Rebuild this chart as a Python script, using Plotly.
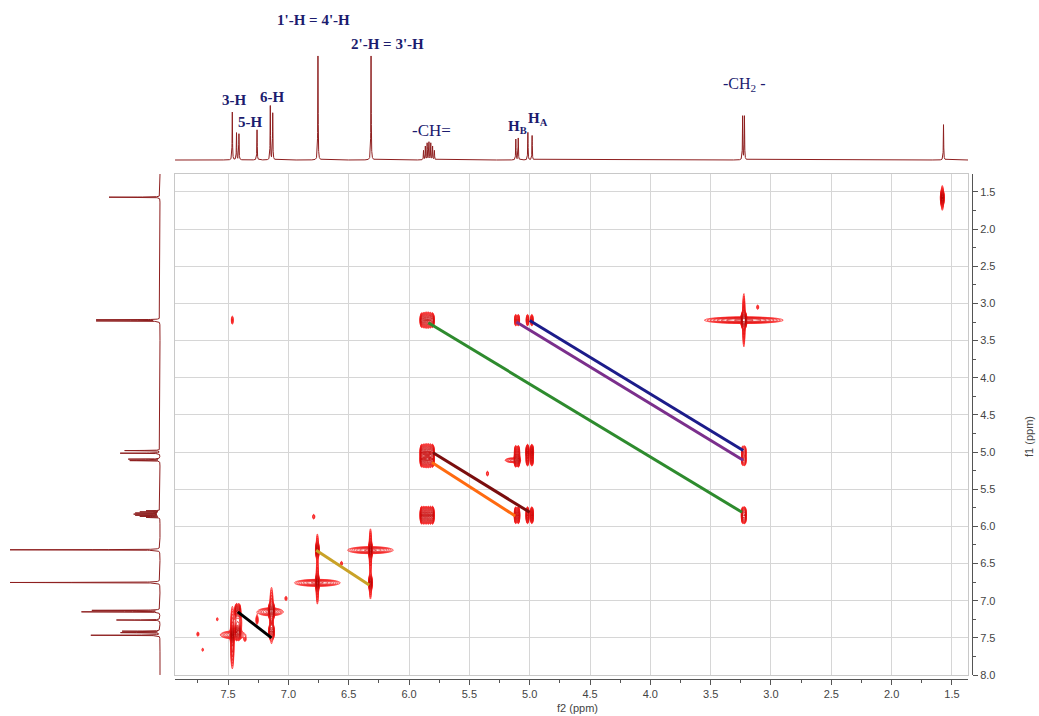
import numpy as np
import plotly.graph_objects as go

W, H = 1039, 716

# ---------------- data ----------------
# 1D proton spectrum (projection shown on top and on the left): ppm, relative height
peak_ppm = [7.465, 7.430, 7.410, 7.260, 7.150, 7.130, 6.755, 6.315,
            5.880, 5.865, 5.850, 5.835, 5.820, 5.805, 5.790,
            5.115, 5.095, 5.015, 4.980, 3.235, 3.220, 1.570]
peak_height = [0.46, 0.26, 0.25, 0.29, 0.52, 0.45, 1.00, 1.00,
               0.09, 0.13, 0.16, 0.17, 0.16, 0.13, 0.09,
               0.20, 0.21, 0.265, 0.235, 0.42, 0.42, 0.34]

# spin systems of the 2D COSY map
spin_name = ["H3", "H5", "CDCl3", "H6", "H1p", "H2p", "CH", "HB", "HA", "CH2", "H2O"]
spin_center = [7.465, 7.42, 7.26, 7.14, 6.76, 6.32, 5.85, 5.105, 5.00, 3.225, 1.58]
spin_lines = [[0.0], [-0.01, 0.01], [0.0], [-0.01, 0.01], [0.0], [0.0],
              [-0.045, -0.027, -0.009, 0.009, 0.027, 0.045],
              [-0.01, 0.01], [-0.018, 0.018], [-0.008, 0.008], [0.0]]

# COSY peaks: spin along f2, spin along f1, intensity
cosy_f2 = ["H3", "H5", "CDCl3", "H6", "H1p", "H2p", "CH", "HB", "HA", "CH2", "H2O",
           "H5", "H6", "H3", "H1p", "H2p",
           "CH", "CH2", "HB", "HA", "CH2", "CH2",
           "CH", "CH", "HB", "HA", "HB", "HA", "H3"]
cosy_f1 = ["H3", "H5", "CDCl3", "H6", "H1p", "H2p", "CH", "HB", "HA", "CH2", "H2O",
           "H6", "H5", "H5", "H2p", "H1p",
           "CH2", "CH", "CH2", "CH2", "HB", "HA",
           "HB", "HA", "CH", "CH", "HA", "HB", "CH2"]
cosy_amp = [0.80, 0.50, 0.06, 0.80, 1.00, 1.00, 0.35, 0.35, 0.35, 1.00, 0.70,
            0.30, 0.30, 0.15, 0.60, 0.60,
            0.30, 0.25, 0.12, 0.12, 0.12, 0.12,
            0.30, 0.30, 0.25, 0.25, 0.15, 0.15, 0.05]

# extra features: diagonal ridges, t1 streaks, small artefacts
extra_f2 = [6.76, 6.32, 3.225, 7.15, 7.46, 5.14,
            6.76, 6.32, 3.225, 7.465, 7.14, 1.58, 5.85, 5.85, 7.42,
            6.79, 5.35, 3.11, 7.75, 7.02, 6.56, 7.71, 7.36, 7.59,
            6.76, 6.32]
extra_f1 = [6.76, 6.32, 3.225, 7.15, 7.46, 5.11,
            6.76, 6.32, 3.225, 7.50, 7.20, 1.58, 5.05, 3.225, 7.30,
            5.87, 5.29, 3.05, 7.45, 6.97, 6.50, 7.66, 7.52, 7.25,
            6.28, 6.80]
extra_amp = [0.12, 0.12, 0.16, 0.10, 0.09, 0.07,
             0.10, 0.10, 0.10, 0.12, 0.12, 0.08, 0.05, 0.04, 0.08,
             0.045, 0.045, 0.04, 0.04, 0.04, 0.04, 0.035, 0.04, 0.035,
             0.06, 0.06]
extra_sx = [0.10, 0.10, 0.16, 0.06, 0.06, 0.04,
            0.006, 0.006, 0.006, 0.008, 0.008, 0.006, 0.03, 0.03, 0.02,
            0.007, 0.007, 0.007, 0.007, 0.007, 0.007, 0.006, 0.007, 0.006,
            0.006, 0.006]
extra_sy = [0.025, 0.025, 0.022, 0.03, 0.03, 0.02,
            0.16, 0.16, 0.20, 0.22, 0.20, 0.10, 0.09, 0.07, 0.12,
            0.025, 0.025, 0.025, 0.025, 0.025, 0.025, 0.02, 0.025, 0.02,
            0.12, 0.12]

# correlation lines drawn on the map (f2 start, f1 start, f2 end, f1 end)
link_f2_start = [7.42, 6.77, 5.80, 5.81, 5.84, 5.11, 5.00]
link_f1_start = [7.15, 6.32, 5.01, 5.14, 3.26, 3.25, 3.23]
link_f2_end = [7.14, 6.33, 5.00, 5.12, 3.24, 3.23, 3.23]
link_f1_end = [7.50, 6.79, 5.81, 5.86, 5.81, 5.11, 4.98]
link_color = ["#000000", "#c9a227", "#7a0e0e", "#ff6a10", "#2e8b2e", "#7b2f8c", "#1c1c8a"]

# assignment labels of the 1D spectrum
label_text = ["<b>3-H</b>", "<b>5-H</b>", "<b>6-H</b>", "<b>1'-H = 4'-H</b>",
              "<b>2'-H = 3'-H</b>", "-CH=", "<b>H<sub>B</sub></b>",
              "<b>H<sub>A</sub></b>", "-CH<sub>2</sub> -"]
label_ppm = [7.455, 7.32, 7.135, 6.79, 6.18, 5.81, 5.10, 4.93, 3.22]
label_py = [100, 122, 97, 20, 44, 130, 127, 119, 84]
label_size = [15, 15, 15, 15, 15, 17, 15, 15, 16]

# ---------------- geometry ----------------
X_RANGE = [7.94, 1.367]
Y_RANGE = [8.0, 1.258]
x_dom = [175 / W, 968 / W]
y_dom = [1 - 675 / H, 1 - 174 / H]

SX, SY = 0.006, 0.04  # 2D line widths (f2, f1)
spin_idx = {n: i for i, n in enumerate(spin_name)}


def profile(vals, i, sigma):
    c = spin_center[i]
    offs = spin_lines[i]
    g = np.linspace(c - 0.2, c + 0.2, 4001)
    norm = sum(np.exp(-0.5 * ((g - (c + o)) / sigma) ** 2) for o in offs).max()
    p = sum(np.exp(-0.5 * ((vals - (c + o)) / sigma) ** 2) for o in offs)
    return p / norm


def spectrum2d(x, y):
    Z = np.zeros((len(y), len(x)))
    for a, b, amp in zip(cosy_f2, cosy_f1, cosy_amp):
        px = profile(x, spin_idx[a], SX)
        py = profile(y, spin_idx[b], SY)
        Z += amp * np.outer(py, px)
    for f2, f1, amp, sx, sy in zip(extra_f2, extra_f1, extra_amp, extra_sx, extra_sy):
        Z += amp * np.outer(np.exp(-0.5 * ((y - f1) / sy) ** 2),
                            np.exp(-0.5 * ((x - f2) / sx) ** 2))
    return Z


windows = [(6.98, 7.94, 6.75, 7.98),
           (6.05, 6.98, 5.70, 7.20),
           (4.65, 6.05, 4.65, 6.10),
           (4.65, 6.05, 2.85, 3.60),
           (2.75, 3.65, 2.55, 6.15),
           (7.30, 7.60, 3.05, 3.40),
           (1.37, 1.80, 1.26, 1.95)]

L0, FAC = 0.02, 1.32
lstart, lsize, lend = np.log10(L0), np.log10(FAC), 0.05

fig = go.Figure()

for (xa, xb, ya, yb) in windows:
    x = np.arange(xa, xb, 0.003)
    y = np.arange(ya, yb, 0.01)
    Z = spectrum2d(x, y)
    fig.add_trace(go.Contour(
        x=x, y=y, z=np.log10(Z + 1e-9).astype(np.float32),
        contours=dict(start=lstart, end=lend, size=lsize, coloring="lines"),
        colorscale=[[0, "#ff2222"], [1, "#b00000"]], zmin=lstart, zmax=0,
        showscale=False, line=dict(width=0.9), hoverinfo="skip",
        xaxis="x", yaxis="y"))

# correlation lines
for xs, ys, xe, ye, col in zip(link_f2_start, link_f1_start, link_f2_end, link_f1_end, link_color):
    fig.add_trace(go.Scatter(x=[xs, xe], y=[ys, ye], mode="lines",
                             line=dict(color=col, width=3), hoverinfo="skip",
                             xaxis="x", yaxis="y"))

# 1D spectra
HW = 0.0018


def spec1d(grid):
    s = np.zeros_like(grid)
    for p, h in zip(peak_ppm, peak_height):
        s += h / (1 + ((grid - p) / HW) ** 2)
    return s


gx = np.arange(X_RANGE[1], X_RANGE[0], 0.0005)
fig.add_trace(go.Scatter(x=gx, y=spec1d(gx), mode="lines",
                         line=dict(color="#8e1f1f", width=1), hoverinfo="skip",
                         xaxis="x3", yaxis="y3"))
gy = np.arange(Y_RANGE[1], Y_RANGE[0], 0.0005)
fig.add_trace(go.Scatter(x=spec1d(gy), y=gy, mode="lines",
                         line=dict(color="#8e1f1f", width=1), hoverinfo="skip",
                         xaxis="x4", yaxis="y4"))

# dummy trace for the labelled axes
fig.add_trace(go.Scatter(x=[4.5], y=[4.5], mode="markers", marker=dict(opacity=0),
                         hoverinfo="skip", xaxis="x2", yaxis="y2"))

tickfont = dict(family="Liberation Sans, Arial, sans-serif", size=11, color="#444444")
minor = dict(dtick=0.25, tick0=0, ticks="outside", ticklen=3, tickcolor="#555555", showgrid=False)

for t, p, py, fs in zip(label_text, label_ppm, label_py, label_size):
    fig.add_annotation(x=p, y=1 - py / H, xref="x3", yref="paper", text=t,
                       showarrow=False, xanchor="center", yanchor="middle",
                       font=dict(family="Liberation Serif, Times New Roman, serif",
                                 size=fs, color="#1c1c6e"))

fig.add_annotation(x=577 / W, y=1 - 708 / H, xref="paper", yref="paper", text="f2 (ppm)",
                   showarrow=False, xanchor="center", yanchor="middle", font=tickfont)
fig.add_annotation(x=1029 / W, y=1 - 437 / H, xref="paper", yref="paper", text="f1 (ppm)",
                   showarrow=False, textangle=-90, xanchor="center", yanchor="middle",
                   font=tickfont)

fig.update_layout(
    width=W, height=H, margin=dict(l=0, r=0, t=0, b=0, autoexpand=False),
    paper_bgcolor="white", plot_bgcolor="white", showlegend=False,
    xaxis=dict(domain=x_dom, range=X_RANGE, anchor="y", tick0=0, dtick=0.5, automargin=False,
               showticklabels=False, ticks="", showgrid=True, gridcolor="#d6d6d6",
               zeroline=False, showline=True, linecolor="#c8c8c8", mirror=True),
    yaxis=dict(domain=y_dom, range=Y_RANGE, anchor="x", tick0=0, dtick=0.5, automargin=False,
               showticklabels=False, ticks="", showgrid=True, gridcolor="#d6d6d6",
               zeroline=False, showline=True, linecolor="#c8c8c8", mirror=True),
    xaxis2=dict(overlaying="x", anchor="free", position=1 - 679 / H, range=X_RANGE,
                automargin=False,
                tickmode="linear", tick0=0, dtick=0.5, ticks="outside", ticklen=5,
                tickcolor="#555555", showline=True, linecolor="#555555",
                showgrid=False, zeroline=False, tickformat=".1f", tickfont=tickfont,
                minor=minor),
    yaxis2=dict(overlaying="y", anchor="free", side="right", position=972 / W,
                automargin=False,
                range=Y_RANGE, tickmode="linear", tick0=0, dtick=0.5, ticks="outside",
                ticklen=5, tickcolor="#555555", showline=True, linecolor="#555555",
                showgrid=False, zeroline=False, tickformat=".1f", tickfont=tickfont,
                minor=minor),
    xaxis3=dict(domain=x_dom, range=X_RANGE, anchor="y3", visible=False, automargin=False),
    yaxis3=dict(domain=[1 - 174 / H, 1], range=[-0.1346, 1.538], anchor="x3", visible=False,
                automargin=False),
    xaxis4=dict(domain=[0, 175 / W], range=[1.0667, -0.1], anchor="y4", visible=False,
                automargin=False),
    yaxis4=dict(domain=y_dom, range=Y_RANGE, anchor="x4", visible=False, automargin=False),
)

fig.write_html("out.html", config={"displayModeBar": False},
               post_script="document.body.style.margin='0px';"
                           "document.body.style.overflow='hidden';")
